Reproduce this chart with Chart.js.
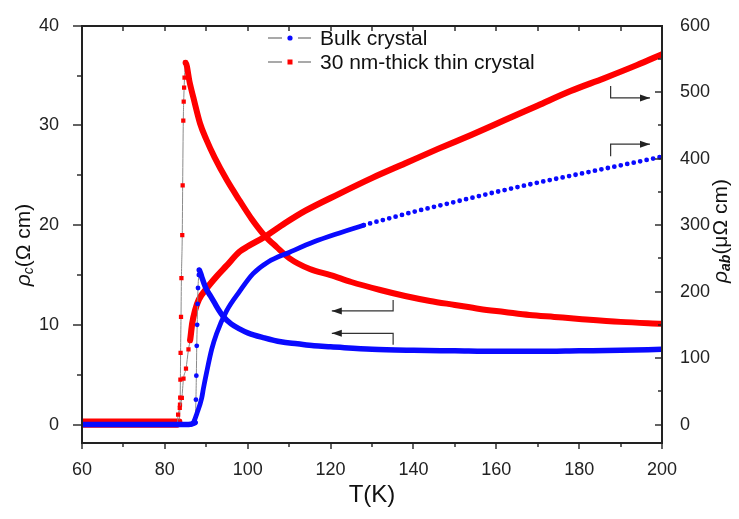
<!DOCTYPE html>
<html>
<head>
<meta charset="utf-8">
<script src="https://cdn.jsdelivr.net/npm/chart.js@4"></script>
<style>
  body { margin: 0; background: #fff; }
  #wrap { width: 739px; height: 519px; }
</style>
</head>
<body>
<div id="wrap"><canvas id="myChart"></canvas></div>
<script>
// Данные
// Bulk crystal, rho_c (левая ось)
const bulkRhoCT = [60, 65, 70, 75, 80, 85, 87.3, 87.5, 87.6, 87.7, 87.8, 87.9, 88.0, 88.2, 88.3,
  88.6, 89, 89.5, 90, 91, 92, 93, 94, 96, 98, 100, 104, 108, 112, 116, 120, 130, 140, 150, 160, 170, 180, 190, 200];
const bulkRhoC = [0, 0, 0, 0, 0, 0, 0.2, 2.5, 4.9, 7.9, 10, 12.1, 13.7, 15.0, 15.5,
  15.2, 14.7, 14.1, 13.6, 12.9, 12.2, 11.5, 10.9, 10.1, 9.6, 9.2, 8.7, 8.3, 8.1, 7.9, 7.8, 7.55, 7.45, 7.4, 7.35, 7.35, 7.4, 7.45, 7.55];

// Bulk crystal, rho_ab (правая ось)
const bulkRhoAbT = [60, 70, 80, 86, 86.9, 87.7, 88.9, 89.3, 90.1, 91.3, 92.5, 94.9, 98, 101.3, 105, 110, 116, 122, 128, 134, 140, 150, 160, 170, 180, 190, 200];
const bulkRhoAb = [0, 0, 0, 0, 3, 16, 40, 54, 79, 113, 137, 171, 200, 227, 245, 259, 275, 288, 300, 310, 320, 335, 350, 364, 377, 390, 403];

// 30 nm thin crystal, rho_c (левая ось)
const thinRhoCT = [60, 65, 70, 75, 80, 83.5, 83.65, 83.7, 83.75, 83.8, 83.9, 84.0, 84.2, 84.3, 84.45, 84.55, 84.65, 84.75, 85,
  86, 87, 88.5, 90, 92, 95, 98, 101, 104, 107, 110, 115, 120, 125, 132, 138, 144, 150, 156, 162, 168, 174, 180, 190, 200];
const thinRhoC = [0.3, 0.3, 0.3, 0.3, 0.3, 0.3, 2.0, 2.7, 4.5, 7.2, 10.8, 14.7, 19, 24, 30.5, 32.4, 33.8, 34.8, 36.3,
  34.3, 32.6, 30.2, 28.6, 26.8, 24.5, 22.5, 20.6, 19.0, 17.8, 16.7, 15.6, 15.0, 14.3, 13.5, 12.9, 12.4, 12.0, 11.6, 11.3, 11.0, 10.8, 10.6, 10.3, 10.1];

// 30 nm thin crystal, rho_ab (правая ось)
const thinRhoAbT = [60, 70, 80, 83, 83.2, 83.6, 84.1, 84.5, 85.1, 85.7, 86.1, 86.6, 87.3, 88.2, 90.1, 92.5, 94.9, 98, 100, 104, 109, 114, 122, 130, 138, 146, 154, 162, 170, 178, 186, 194, 200];
const thinRhoAb = [0, 0, 0, 0, 15, 25, 40, 69, 84, 113, 127, 152, 172, 188, 205, 223, 239, 260, 268, 282, 303, 322, 347, 371, 393, 415, 436, 458, 480, 502, 521, 541, 557];

// Подписи делений
const xTicks = [60, 80, 100, 120, 140, 160, 180, 200];
const leftTicks = [0, 10, 20, 30, 40];
const rightTicks = [0, 100, 200, 300, 400, 500, 600];

// Участки скачка (тонкая серая линия с маркерами)
const bulkRhoCJump = [87.3, 88.3];
const thinRhoCJump = [83.5, 85];
const thinRhoAbJump = [83, 86.1];

// Стрелки-указатели осей: [ось, точки в координатах данных]
const arrows = [
  ['y', [[135.1, 12.5], [135.1, 11.4], [120.3, 11.4]]],
  ['y', [[135.1, 8.0], [135.1, 9.15], [120.3, 9.15]]],
  ['y2', [[187.6, 509.5], [187.6, 491.5], [197.1, 491.5]]],
  ['y2', [[187.6, 403.9], [187.6, 421.9], [197.1, 421.9]]]
];

const FONT = "'Liberation Sans', Arial, sans-serif";
const RED = '#ff0000';
const BLUE = '#0a0aff';
const GRAY = '#8a8a8a';
const AXIS = '#222';

function inRange(v, r) {
    return r && v >= r[0] && v <= r[1];
}

function makeSeries(xs, ys, axis, color, width, style, jump, dotFrom) {
    return {
        data: xs.map((x, i) => ({ x: x, y: ys[i] })),
        yAxisID: axis,
        borderColor: color,
        borderWidth: width,
        borderJoinStyle: 'round',
        borderCapStyle: 'round',
        cubicInterpolationMode: 'monotone',
        pointStyle: style,
        pointBackgroundColor: color,
        pointBorderWidth: 0,
        pointRadius: c => inRange(c.raw.x, jump) ? (style === 'rect' ? 3 : 2.4) : 0,
        segment: {
            borderColor: c => jump && c.p0.parsed.x >= jump[0] && c.p1.parsed.x <= jump[1] ? GRAY : color,
            borderWidth: c => jump && c.p0.parsed.x >= jump[0] && c.p1.parsed.x <= jump[1] ? 1 : width,
            borderDash: c => dotFrom !== undefined && c.p0.parsed.x >= dotFrom ? [0, 6.6] : undefined
        }
    };
}

// Рамка, деления, подписи осей, легенда, стрелки
const decorPlugin = {
    id: 'decor',
    afterDraw(chart) {
        const ctx = chart.ctx;
        const a = chart.chartArea;
        const { x, y, y2 } = chart.scales;
        const L = Math.round(a.left), R = Math.round(a.right), T = Math.round(a.top), B = Math.round(a.bottom);
        ctx.save();
        ctx.fillStyle = AXIS;
        // рамка
        ctx.fillRect(L - 1, T - 1, R - L + 2, 2);
        ctx.fillRect(L - 1, B - 1, R - L + 2, 2);
        ctx.fillRect(L - 1, T - 1, 2, B - T + 2);
        ctx.fillRect(R - 1, T - 1, 2, B - T + 2);

        // деления
        for (let t = 60; t <= 200; t += 10) {
            const px = Math.round(x.getPixelForValue(t));
            ctx.fillRect(px - 0.7, B, 1.4, t % 20 === 0 ? 6 : 4);
            ctx.fillRect(px - 0.7, T, 1.4, 5);
        }
        for (let v = 0; v <= 40; v += 5) {
            const py = Math.round(y.getPixelForValue(v));
            const len = v % 10 === 0 ? 9 : 5;
            ctx.fillRect(L - len, py - 0.7, len, 1.4);
        }
        for (let v = 0; v <= 600; v += 50) {
            const py = Math.round(y2.getPixelForValue(v));
            const len = v % 100 === 0 ? 7 : 4;
            ctx.fillRect(R - len, py - 0.7, len, 1.4);
        }

        // подписи осей Y с нижними индексами
        drawRotated(ctx, 24, 245, [
            ['ρ', 'italic 21px ' + FONT, 0],
            ['c', 'italic 14px ' + FONT, 5],
            ['(Ω cm)', '21px ' + FONT, 0]
        ]);
        drawRotated(ctx, 721, 231, [
            ['ρ', 'italic 21px ' + FONT, 0],
            ['ab', 'italic bold 14px ' + FONT, 5],
            ['(μΩ cm)', '21px ' + FONT, 0]
        ]);

        // легенда
        const rows = [['Bulk crystal', BLUE, 'circle', 38], ['30 nm-thick thin crystal', RED, 'rect', 62]];
        rows.forEach(r => {
            const ly = r[3];
            ctx.fillStyle = '#555';
            ctx.fillRect(268, ly - 0.5, 14, 1);
            ctx.fillRect(298, ly - 0.5, 13, 1);
            ctx.fillStyle = r[1];
            if (r[2] === 'circle') {
                ctx.beginPath(); ctx.arc(290, ly, 2.6, 0, Math.PI * 2); ctx.fill();
            } else {
                ctx.fillRect(287.5, ly - 2.5, 5, 5);
            }
            ctx.fillStyle = '#111';
            ctx.font = '21px ' + FONT;
            ctx.textBaseline = 'middle';
            ctx.textAlign = 'left';
            ctx.fillText(r[0], 320, ly + 1);
        });

        // стрелки
        ctx.setLineDash([]);
        ctx.strokeStyle = '#333';
        ctx.fillStyle = '#222';
        ctx.lineWidth = 1.2;
        arrows.forEach(ar => {
            const sc = chart.scales[ar[0]];
            const pts = ar[1].map(p => [x.getPixelForValue(p[0]), sc.getPixelForValue(p[1])]);
            ctx.beginPath();
            ctx.moveTo(pts[0][0], pts[0][1]);
            for (let i = 1; i < pts.length; i++) ctx.lineTo(pts[i][0], pts[i][1]);
            ctx.stroke();
            const e = pts[pts.length - 1], s = pts[pts.length - 2];
            const dir = Math.sign(e[0] - s[0]);
            ctx.beginPath();
            ctx.moveTo(e[0], e[1]);
            ctx.lineTo(e[0] - dir * 10, e[1] - 3.5);
            ctx.lineTo(e[0] - dir * 10, e[1] + 3.5);
            ctx.closePath();
            ctx.fill();
        });
        ctx.restore();
    }
};

function drawRotated(ctx, cx, cy, parts) {
    ctx.save();
    ctx.translate(cx, cy);
    ctx.rotate(-Math.PI / 2);
    ctx.fillStyle = '#111';
    ctx.textBaseline = 'middle';
    ctx.textAlign = 'left';
    let total = 0;
    parts.forEach(p => { ctx.font = p[1]; total += ctx.measureText(p[0]).width; });
    let px = -total / 2;
    parts.forEach(p => {
        ctx.font = p[1];
        ctx.fillText(p[0], px, p[2]);
        px += ctx.measureText(p[0]).width;
    });
    ctx.restore();
}

function setTicks(values) {
    return scale => { scale.ticks = values.map(v => ({ value: v })); };
}

const tickFont = { family: FONT, size: 18 };

let ctx = document.getElementById('myChart').getContext('2d');
let myChart = new Chart(ctx, {
    type: 'line',
    data: {
        datasets: [
            makeSeries(bulkRhoAbT, bulkRhoAb, 'y2', BLUE, 4.8, 'circle', null, 124),
            makeSeries(bulkRhoCT, bulkRhoC, 'y', BLUE, 5.5, 'circle', bulkRhoCJump),
            makeSeries(thinRhoAbT, thinRhoAb, 'y2', RED, 6.2, 'rect', thinRhoAbJump),
            makeSeries(thinRhoCT, thinRhoC, 'y', RED, 6, 'rect', thinRhoCJump)
        ]
    },
    options: {
        responsive: true,
        maintainAspectRatio: false,
        animation: false,
        layout: { padding: { top: 13, left: 0, right: 0, bottom: 0 } },
        plugins: { legend: { display: false }, tooltip: { enabled: false } },
        scales: {
            x: {
                type: 'linear',
                min: 60,
                max: 200,
                afterBuildTicks: setTicks(xTicks),
                afterFit: s => { s.height = 76; },
                grid: { display: false },
                border: { display: false },
                ticks: { font: tickFont, color: '#222', padding: 8, maxRotation: 0 },
                title: { display: true, text: 'T(K)', color: '#111', font: { family: FONT, size: 24 }, padding: { top: 0, bottom: 9 } }
            },
            y: {
                position: 'left',
                min: -1.85,
                max: 40,
                afterBuildTicks: setTicks(leftTicks),
                afterFit: s => { s.width = 82; },
                grid: { display: false },
                border: { display: false },
                ticks: { font: tickFont, color: '#222', padding: 15 }
            },
            y2: {
                position: 'right',
                min: -27.75,
                max: 600,
                afterBuildTicks: setTicks(rightTicks),
                afterFit: s => { s.width = 77; },
                grid: { display: false },
                border: { display: false },
                ticks: { font: tickFont, color: '#222', padding: 10 }
            }
        }
    },
    plugins: [decorPlugin]
});
</script>
</body>
</html>
